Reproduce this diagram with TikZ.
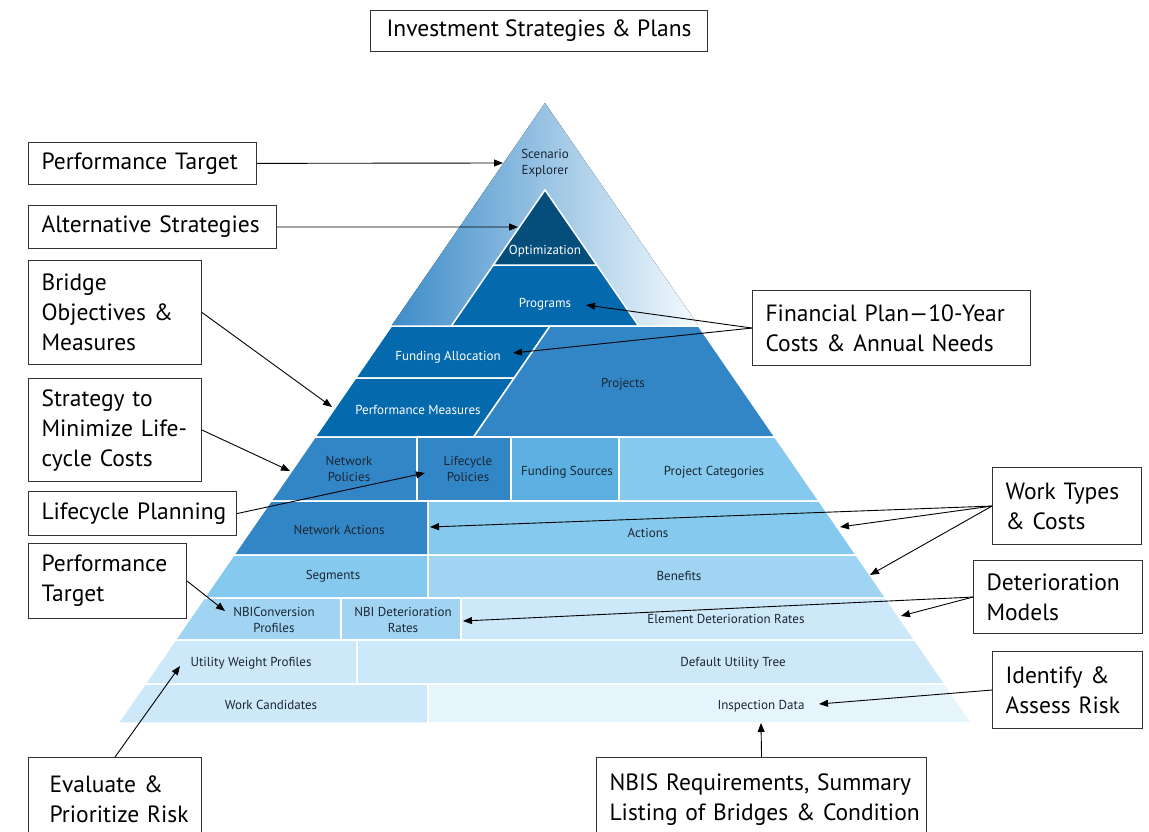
\documentclass[tikz,border=0pt]{standalone}
\usepackage{fontspec}
\setmainfont{PT Sans}
\usetikzlibrary{bayesnet,arrows.meta,positioning}

\definecolor{deepblue}{HTML}{054E7C}
\definecolor{darkblue}{HTML}{0569AD}
\definecolor{midblue}{HTML}{3386C6}
\definecolor{skyblue}{HTML}{5CB0E2}
\definecolor{lightblue}{HTML}{86C9EE}
\definecolor{paleblue}{HTML}{A0D4F2}
\definecolor{mistblue}{HTML}{CDE8F8}
\definecolor{iceblue}{HTML}{E6F4FC}
\definecolor{inkblue}{HTML}{1B2633}

\tikzset{
  block/.style={draw=white, line width=1.5pt},
  tier/.style={text=inkblue, font=\fontsize{13}{16}\selectfont, align=center, inner sep=0pt},
  tierw/.style={tier, text=white},
  callout/.style={draw=black!80, line width=1.1pt, fill=white, anchor=north west,
    align=left, inner sep=0pt, font=\fontsize{23.5}{30}\selectfont},
  pointer/.style={>={Triangle[length=9pt,width=7pt]}, line width=0.9pt},
}

\begin{document}
\begin{tikzpicture}[x=1pt, y=-1pt]
  \useasboundingbox (0,0) rectangle (1149,832);

  \fill[left color=midblue!95, middle color=blue!20!midblue!50, right color=iceblue!40]
    (545,103) -- (391.4,326) -- (698.6,326) -- cycle;
  \filldraw[block, fill=darkblue] (493.3,265) -- (596.7,265) -- (638.7,326) -- (451.3,326) -- cycle;
  \filldraw[block, fill=deepblue] (545,190) -- (596.7,265) -- (493.3,265) -- cycle;

  \filldraw[block, fill=darkblue] (391.4,326) -- (550,326) -- (514.2,378) -- (355.6,378) -- cycle;
  \filldraw[block, fill=darkblue] (355.6,378) -- (514.2,378) -- (473.6,437) -- (315,437) -- cycle;
  \filldraw[block, fill=midblue] (550,326) -- (698.6,326) -- (775,437) -- (473.6,437) -- cycle;

  \filldraw[block, fill=midblue] (315,437) -- (417,437) -- (417,501) -- (270.9,501) -- cycle;
  \filldraw[block, fill=midblue] (417,437) rectangle (511,501);
  \filldraw[block, fill=skyblue] (511,437) rectangle (619,501);
  \filldraw[block, fill=lightblue] (619,437) -- (775,437) -- (819.1,501) -- (619,501) -- cycle;

  \filldraw[block, fill=midblue] (270.9,501) -- (428,501) -- (428,555) -- (233.7,555) -- cycle;
  \filldraw[block, fill=lightblue] (428,501) -- (819.1,501) -- (856.3,555) -- (428,555) -- cycle;

  \filldraw[block, fill=lightblue] (233.7,555) -- (428,555) -- (428,598) -- (204.1,598) -- cycle;
  \filldraw[block, fill=paleblue] (428,555) -- (856.3,555) -- (885.9,598) -- (428,598) -- cycle;

  \filldraw[block, fill=paleblue] (204.1,598) -- (341,598) -- (341,640) -- (175.2,640) -- cycle;
  \filldraw[block, fill=paleblue] (341,598) rectangle (461,640);
  \filldraw[block, fill=mistblue] (461,598) -- (885.9,598) -- (914.8,640) -- (461,640) -- cycle;

  \filldraw[block, fill=mistblue] (175.2,640) -- (357,640) -- (357,684) -- (144.9,684) -- cycle;
  \filldraw[block, fill=mistblue] (357,640) -- (914.8,640) -- (945.1,684) -- (357,684) -- cycle;

  \filldraw[block, fill=mistblue] (144.9,684) -- (428,684) -- (428,723) -- (118,723) -- cycle;
  \filldraw[block, fill=iceblue] (428,684) -- (945.1,684) -- (972,723) -- (428,723) -- cycle;

  \node[tier] (scen) at (545,163) {Scenario\\Explorer};
  \node[tierw] (opt) at (545,251) {Optimization};
  \node[tierw] (prog) at (545,304) {Programs};
  \node[tierw] (falloc) at (448,357) {Funding Allocation};
  \node[tierw] (pmeas) at (418,410) {Performance Measures};
  \node[tier] (proj) at (623,384) {Projects};
  \node[tier] (npol) at (349,469) {Network\\Policies};
  \node[tier] (lpol) at (468,469) {Lifecycle\\Policies};
  \node[tier] (fsrc) at (567,472) {Funding Sources};
  \node[tier] (pcat) at (714,472) {Project Categories};
  \node[tier] (nact) at (339,530) {Network Actions};
  \node[tier] (act) at (648,533) {Actions};
  \node[tier] (seg) at (333,576) {Segments};
  \node[tier] (ben) at (679,576) {Benefits};
  \node[tier] (nbic) at (274,620) {NBIConversion\\Profiles};
  \node[tier] (nbid) at (403,620) {NBI Deterioration\\Rates};
  \node[tier] (elem) at (726,619) {Element Deterioration Rates};
  \node[tier] (util) at (251,663) {Utility Weight Profiles};
  \node[tier] (tree) at (733,663) {Default Utility Tree};
  \node[tier] (wcand) at (271,705) {Work Candidates};
  \node[tier] (insp) at (761,706) {Inspection Data};

  \node[callout, minimum width=337pt, minimum height=41pt, align=center] (invest) at (370,10) {Investment Strategies \& Plans};
  \node[callout, minimum width=228pt, minimum height=42pt, text width=202pt] (perf) at (28,142) {\mbox{Performance Target}};
  \node[callout, minimum width=248pt, minimum height=43pt, text width=222pt] (alt) at (28,205) {\mbox{Alternative Strategies}};
  \node[callout, minimum width=173pt, minimum height=104pt, text width=147pt] (bridge) at (28,260) {Bridge\\\mbox{Objectives \&}\\Measures};
  \node[callout, minimum width=173pt, minimum height=103pt, text width=147pt] (strat) at (28,378) {\mbox{Strategy to}\\\mbox{Minimize Life-}\\\mbox{cycle Costs}};
  \node[callout, minimum width=208pt, minimum height=44pt, text width=182pt] (lcp) at (28,491) {\mbox{Lifecycle Planning}};
  \node[callout, minimum width=158pt, minimum height=75pt, text width=132pt] (perf2) at (28,543) {Performance\\Target};
  \node[callout, minimum width=173pt, minimum height=84pt, text width=131pt] (eval) at (28,757) {\mbox{Evaluate \&}\\\mbox{Prioritize Risk}};
  \node[callout, minimum width=278pt, minimum height=75pt, text width=252pt] (fin) at (752,290) {\mbox{Financial Plan—10-Year}\\\mbox{Costs \& Annual Needs}};
  \node[callout, minimum width=149pt, minimum height=77pt, text width=123pt] (work) at (992,467) {\mbox{Work Types}\\\mbox{\& Costs}};
  \node[callout, minimum width=169pt, minimum height=73pt, text width=143pt] (det) at (973,560) {Deterioration\\Models};
  \node[callout, minimum width=150pt, minimum height=77pt, text width=124pt] (risk) at (992,651) {\mbox{Identify \&}\\\mbox{Assess Risk}};
  \node[callout, minimum width=330pt, minimum height=84pt, text width=304pt] (nbis) at (596,757) {\mbox{NBIS Requirements, Summary}\\\mbox{Listing of Bridges \& Condition}};

  \coordinate (tscen) at (503,163);
  \coordinate (topt) at (518,227);
  \coordinate (tpmeas) at (332,407);
  \coordinate (tnpol) at (290,471);
  \coordinate (tlpol) at (425,473);
  \coordinate (tnbic) at (225,611);
  \coordinate (tutil) at (180,666);
  \coordinate (tprog) at (586,305);
  \coordinate (tfalloc) at (513,353);
  \coordinate (tnact) at (430,527);
  \coordinate (tact) at (840,527);
  \coordinate (tben) at (870,575);
  \coordinate (tnbid) at (463,621);
  \coordinate (telem) at (901,616);
  \coordinate (tinsp) at (819,704);
  \coordinate (tnbis) at (761,723);

  \edge[pointer] {perf} {tscen};
  \edge[pointer] {alt} {topt};
  \edge[pointer] {bridge.east} {tpmeas};
  \edge[pointer] {strat.east} {tnpol};
  \edge[pointer] {lcp.east} {tlpol};
  \edge[pointer] {perf2.east} {tnbic};
  \edge[pointer] {eval.north} {tutil};
  \edge[pointer] {fin.west} {tprog,tfalloc};
  \edge[pointer] {work.west} {tnact,tact,tben};
  \edge[pointer] {det.west} {tnbid,telem};
  \edge[pointer] {risk.west} {tinsp};
  \edge[pointer] {nbis.north} {tnbis};

\end{tikzpicture}
\end{document}
